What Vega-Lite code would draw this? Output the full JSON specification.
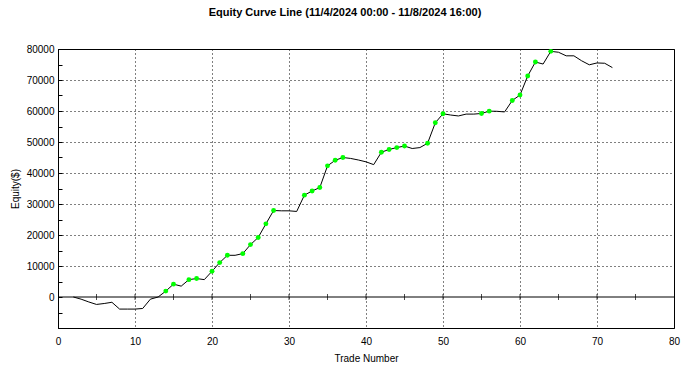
{
  "$schema": "https://vega.github.io/schema/vega-lite/v6.json",
  "width": 616,
  "height": 279,
  "autosize": {"type": "none"},
  "padding": {"left": 58, "top": 49, "right": 15, "bottom": 44},
  "background": "white",
  "config": {
    "font": "Liberation Sans",
    "view": {"stroke": "black", "strokeWidth": 1},
    "axis": {
      "domainColor": "black",
      "tickColor": "black",
      "gridColor": "black",
      "gridDash": [1, 3],
      "gridOpacity": 1,
      "labelColor": "black",
      "labelFontSize": 10,
      "labelOverlap": false,
      "titleColor": "black",
      "titleFontSize": 10,
      "titleFontWeight": "normal"
    }
  },
  "title": {
    "text": "Equity Curve Line (11/4/2024 00:00 - 11/8/2024 16:00)",
    "fontSize": 11,
    "fontWeight": "bold",
    "color": "black",
    "anchor": "middle",
    "offset": 26,
    "dx": -21
  },
  "datasets": {
    "equity": [
      {"trade": 2, "equity": 0, "high": false},
      {"trade": 3, "equity": -700, "high": false},
      {"trade": 4, "equity": -1600, "high": false},
      {"trade": 5, "equity": -2400, "high": false},
      {"trade": 6, "equity": -2100, "high": false},
      {"trade": 7, "equity": -1700, "high": false},
      {"trade": 8, "equity": -3900, "high": false},
      {"trade": 9, "equity": -3900, "high": false},
      {"trade": 10, "equity": -3900, "high": false},
      {"trade": 11, "equity": -3700, "high": false},
      {"trade": 12, "equity": -700, "high": false},
      {"trade": 13, "equity": 0, "high": false},
      {"trade": 14, "equity": 1900, "high": true},
      {"trade": 15, "equity": 4150, "high": true},
      {"trade": 16, "equity": 3500, "high": false},
      {"trade": 17, "equity": 5600, "high": true},
      {"trade": 18, "equity": 5950, "high": true},
      {"trade": 19, "equity": 5600, "high": false},
      {"trade": 20, "equity": 8300, "high": true},
      {"trade": 21, "equity": 11100, "high": true},
      {"trade": 22, "equity": 13450, "high": true},
      {"trade": 23, "equity": 13450, "high": false},
      {"trade": 24, "equity": 14000, "high": true},
      {"trade": 25, "equity": 16900, "high": true},
      {"trade": 26, "equity": 19200, "high": true},
      {"trade": 27, "equity": 23600, "high": true},
      {"trade": 28, "equity": 27900, "high": true},
      {"trade": 29, "equity": 27800, "high": false},
      {"trade": 30, "equity": 27800, "high": false},
      {"trade": 31, "equity": 27600, "high": false},
      {"trade": 32, "equity": 32850, "high": true},
      {"trade": 33, "equity": 34200, "high": true},
      {"trade": 34, "equity": 35300, "high": true},
      {"trade": 35, "equity": 42300, "high": true},
      {"trade": 36, "equity": 44100, "high": true},
      {"trade": 37, "equity": 45000, "high": true},
      {"trade": 38, "equity": 44700, "high": false},
      {"trade": 39, "equity": 44200, "high": false},
      {"trade": 40, "equity": 43600, "high": false},
      {"trade": 41, "equity": 42700, "high": false},
      {"trade": 42, "equity": 46700, "high": true},
      {"trade": 43, "equity": 47600, "high": true},
      {"trade": 44, "equity": 48200, "high": true},
      {"trade": 45, "equity": 48700, "high": true},
      {"trade": 46, "equity": 47900, "high": false},
      {"trade": 47, "equity": 48200, "high": false},
      {"trade": 48, "equity": 49600, "high": true},
      {"trade": 49, "equity": 56200, "high": true},
      {"trade": 50, "equity": 59100, "high": true},
      {"trade": 51, "equity": 58700, "high": false},
      {"trade": 52, "equity": 58400, "high": false},
      {"trade": 53, "equity": 59000, "high": false},
      {"trade": 54, "equity": 59000, "high": false},
      {"trade": 55, "equity": 59200, "high": true},
      {"trade": 56, "equity": 59950, "high": true},
      {"trade": 57, "equity": 59900, "high": false},
      {"trade": 58, "equity": 59700, "high": false},
      {"trade": 59, "equity": 63400, "high": true},
      {"trade": 60, "equity": 65150, "high": true},
      {"trade": 61, "equity": 71300, "high": true},
      {"trade": 62, "equity": 75800, "high": true},
      {"trade": 63, "equity": 75150, "high": false},
      {"trade": 64, "equity": 79250, "high": true},
      {"trade": 65, "equity": 78950, "high": false},
      {"trade": 66, "equity": 77800, "high": false},
      {"trade": 67, "equity": 77800, "high": false},
      {"trade": 68, "equity": 76200, "high": false},
      {"trade": 69, "equity": 74900, "high": false},
      {"trade": 70, "equity": 75500, "high": false},
      {"trade": 71, "equity": 75400, "high": false},
      {"trade": 72, "equity": 74000, "high": false}
    ],
    "zero": [{"equity": 0}],
    "ticks": [
      {"trade": 5}, {"trade": 10}, {"trade": 15}, {"trade": 20}, {"trade": 25},
      {"trade": 30}, {"trade": 35}, {"trade": 40}, {"trade": 45}, {"trade": 50},
      {"trade": 55}, {"trade": 60}, {"trade": 65}, {"trade": 70}, {"trade": 75}
    ]
  },
  "layer": [
    {
      "data": {"name": "equity"},
      "mark": {"type": "point", "opacity": 0},
      "encoding": {
        "x": {
          "field": "trade",
          "type": "quantitative",
          "scale": {"domain": [0, 80], "nice": false, "zero": false},
          "axis": {
            "values": [0, 10, 20, 30, 40, 50, 60, 70, 80],
            "tickCount": 20,
            "ticks": false,
            "grid": true,
            "labelPadding": 8,
            "labelFlush": false,
            "title": "Trade Number",
            "titlePadding": 7
          }
        },
        "y": {
          "field": "equity",
          "type": "quantitative",
          "scale": {"domain": [-10000, 80000], "nice": false, "zero": false},
          "axis": {
            "values": [-10000, -5000, 0, 5000, 10000, 15000, 20000, 25000, 30000, 35000, 40000, 45000, 50000, 55000, 60000, 65000, 70000, 75000, 80000],
            "tickCount": 40,
            "format": "d",
            "labelExpr": "(datum.value % 10000 == 0 && datum.value >= 0) ? datum.label : ''",
            "labelFlush": false,
            "gridOpacity": {"condition": {"test": "datum.value % 10000 != 0 || datum.value <= 0", "value": 0}, "value": 1},
            "tickSize": -4,
            "labelPadding": 8,
            "title": "Equity($)",
            "titlePadding": 6
          }
        }
      }
    },
    {
      "data": {"name": "zero"},
      "mark": {"type": "rule", "color": "black", "strokeWidth": 1},
      "encoding": {
        "y": {"field": "equity", "type": "quantitative"}
      }
    },
    {
      "data": {"name": "ticks"},
      "mark": {"type": "tick", "orient": "vertical", "size": 6, "thickness": 1, "color": "black"},
      "encoding": {
        "x": {"field": "trade", "type": "quantitative"},
        "y": {"datum": 0, "type": "quantitative"}
      }
    },
    {
      "data": {"name": "equity"},
      "mark": {"type": "line", "color": "black", "strokeWidth": 1},
      "encoding": {
        "x": {"field": "trade", "type": "quantitative"},
        "y": {"field": "equity", "type": "quantitative"}
      }
    },
    {
      "data": {"name": "equity"},
      "transform": [{"filter": "datum.high"}],
      "mark": {"type": "circle", "color": "#00ff00", "opacity": 1, "size": 24},
      "encoding": {
        "x": {"field": "trade", "type": "quantitative"},
        "y": {"field": "equity", "type": "quantitative"}
      }
    }
  ]
}
